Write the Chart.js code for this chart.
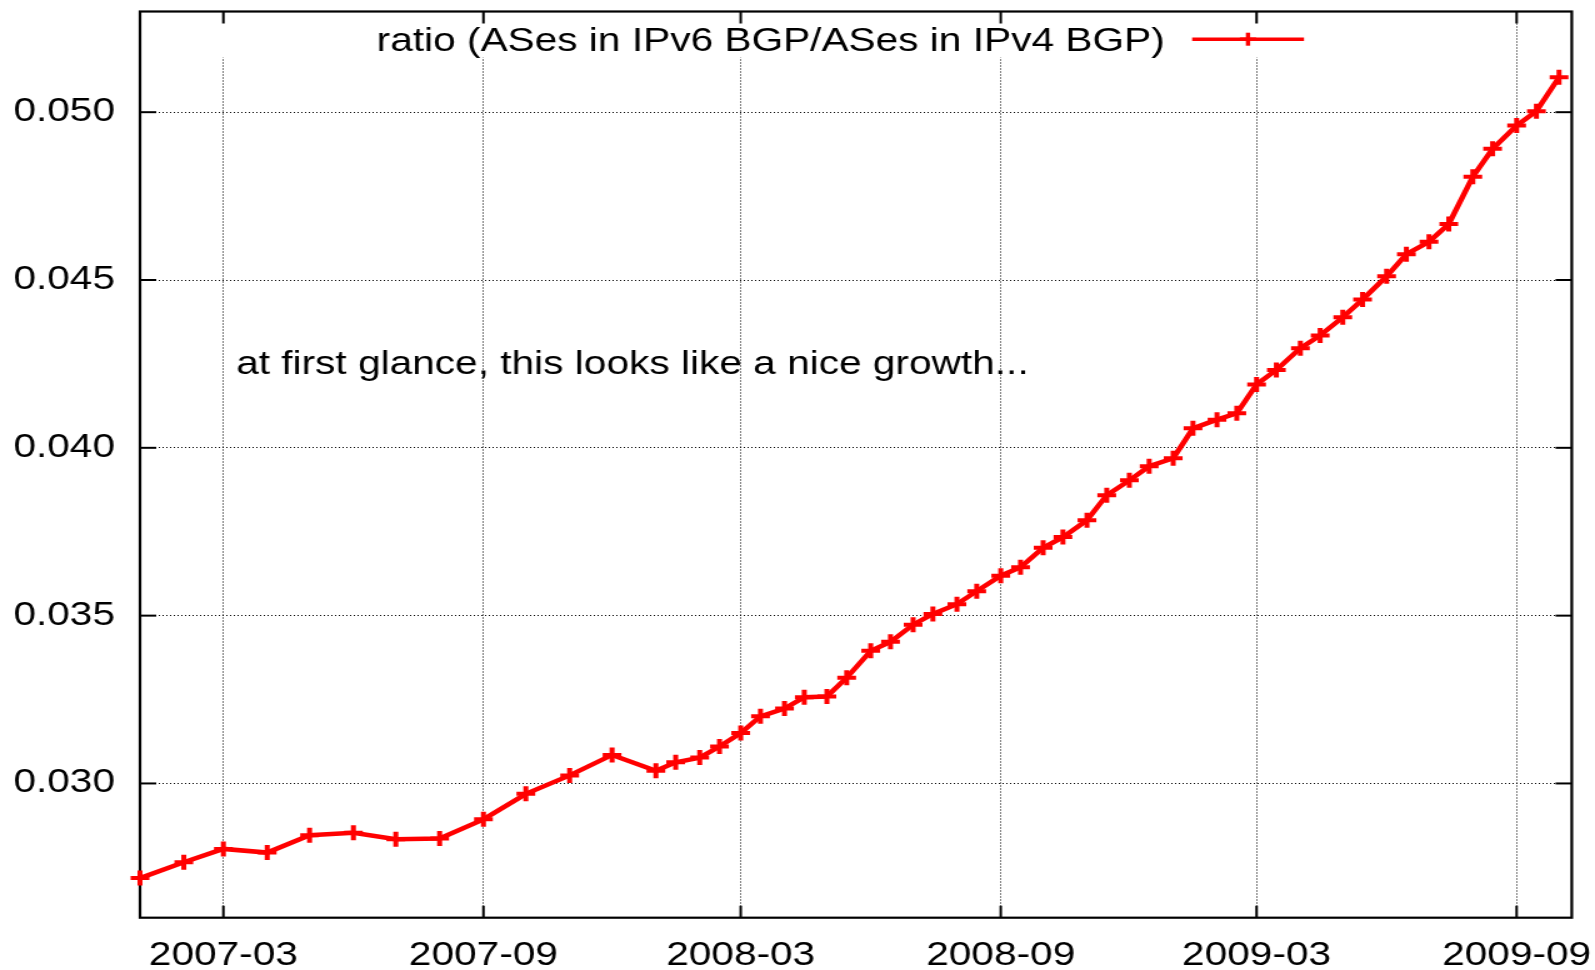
<!DOCTYPE html>
<html>
<head>
<meta charset="utf-8">
<title>ratio IPv6/IPv4 BGP</title>
<script src="https://cdn.jsdelivr.net/npm/chart.js@4.4.1/dist/chart.umd.min.js"></script>
<style>
    html, body { margin: 0; padding: 0; background: #fff; overflow: hidden; }
    /* a figura original vem esticada na horizontal */
    #moldura { width: 1276px; height: 970px; transform: scaleX(1.25); transform-origin: 0 0; }
</style>
</head>
<body>
<div id="moldura"><canvas id="grafico-ratio" width="1276" height="970"></canvas></div>
<script>
// ==================== DADOS ====================
const datas = [
    '2007-01-01', '2007-02-01', '2007-03-01', '2007-04-01', '2007-05-01', '2007-06-01',
    '2007-07-01', '2007-08-01', '2007-09-01', '2007-10-01', '2007-11-01', '2007-12-01',
    '2008-01-01', '2008-01-15', '2008-02-01', '2008-02-15', '2008-03-01', '2008-03-15',
    '2008-04-01', '2008-04-15', '2008-05-01', '2008-05-15', '2008-06-01', '2008-06-15',
    '2008-07-01', '2008-07-15', '2008-08-01', '2008-08-15', '2008-09-01', '2008-09-15',
    '2008-10-01', '2008-10-15', '2008-11-01', '2008-11-15', '2008-12-01', '2008-12-15',
    '2009-01-01', '2009-01-15', '2009-02-01', '2009-02-15', '2009-03-01', '2009-03-15',
    '2009-04-01', '2009-04-15', '2009-05-01', '2009-05-15', '2009-06-01', '2009-06-15',
    '2009-07-01', '2009-07-15', '2009-08-01', '2009-08-15', '2009-09-01', '2009-09-15',
    '2009-10-01'
];

const ratio = [
    0.02718, 0.02765, 0.02805, 0.02794, 0.02846, 0.02853,
    0.02834, 0.02836, 0.02893, 0.02969, 0.03024, 0.03085,
    0.03038, 0.03063, 0.03077, 0.03110, 0.03150, 0.03200,
    0.03223, 0.03257, 0.03259, 0.03315, 0.03395, 0.03422,
    0.03473, 0.03505, 0.03534, 0.03573, 0.03619, 0.03644,
    0.03702, 0.03734, 0.03784, 0.03859, 0.03903, 0.03945,
    0.03969, 0.04058, 0.04084, 0.04103, 0.04189, 0.04232,
    0.04297, 0.04335, 0.04389, 0.04442, 0.04511, 0.04577,
    0.04614, 0.04667, 0.04808, 0.04891, 0.04960, 0.05003,
    0.05104
];

const ticksX = ['2007-03', '2007-09', '2008-03', '2008-09', '2009-03', '2009-09'];
const ticksY = [0.030, 0.035, 0.040, 0.045, 0.050];

const inicioX = '2007-01-01';
const fimX = '2009-10-10';
const minY = 0.026;
const maxY = 0.053;

const tituloSerie = 'ratio (ASes in IPv6 BGP/ASes in IPv4 BGP)';
const textoNota = 'at first glance, this looks like a nice growth...';
const posNota = { data: '2007-03-10', valor: 0.0425 };

// ==================== AUXILIARES ====================
const FONTE = "'Liberation Sans', Arial, sans-serif";
const TAM_FONTE = 32.5;

function dia(str) {
    const [a, m, d] = str.split('-').map(Number);
    return (Date.UTC(a, m - 1, d) - Date.UTC(2007, 0, 1)) / 86400000;
}

function linha(ctx, x1, y1, x2, y2) {
    ctx.beginPath();
    ctx.moveTo(x1, y1);
    ctx.lineTo(x2, y2);
    ctx.stroke();
}

function cruz(ctx, x, y, r) {
    linha(ctx, x - r, y, x + r, y);
    linha(ctx, x, y - r, x, y + r);
}

// estilo gnuplot: caixa fechada, ticks para dentro, chave dentro do gráfico
const pluginGnuplot = {
    id: 'gnuplot',
    beforeDatasetsDraw(chart) {
        const { ctx, chartArea: a } = chart;
        const sx = chart.scales.x, sy = chart.scales.y;
        ctx.save();

        // limpa a grade atrás da chave
        ctx.fillStyle = '#fff';
        ctx.fillRect(a.left + 30, a.top, a.right - a.left - 110, 46);

        ctx.strokeStyle = '#000';
        ctx.lineWidth = 2;
        sx.ticks.forEach(t => {
            const px = sx.getPixelForValue(t.value);
            linha(ctx, px, a.bottom, px, a.bottom - 12);
            linha(ctx, px, a.top, px, a.top + 12);
        });
        sy.ticks.forEach(t => {
            const py = sy.getPixelForValue(t.value);
            linha(ctx, a.left, py, a.left + 13, py);
            linha(ctx, a.right, py, a.right - 13, py);
        });

        ctx.lineWidth = 2.2;
        ctx.strokeRect(a.left, a.top, a.right - a.left, a.bottom - a.top);
        ctx.restore();
    },
    afterDatasetsDraw(chart) {
        const { ctx, chartArea: a } = chart;
        const sx = chart.scales.x, sy = chart.scales.y;
        const centro = (a.left + a.right) / 2;
        ctx.save();
        ctx.font = TAM_FONTE + 'px ' + FONTE;
        ctx.fillStyle = '#000';
        ctx.textBaseline = 'alphabetic';

        // chave
        ctx.textAlign = 'right';
        ctx.fillText(tituloSerie, centro + 247, a.top + 39);
        const yAmostra = a.top + 27.7;
        ctx.strokeStyle = '#ff0000';
        ctx.lineWidth = 3.4;
        linha(ctx, centro + 269, yAmostra, centro + 358.5, yAmostra);
        cruz(ctx, centro + 313.7, yAmostra, 6.5);

        // nota
        ctx.textAlign = 'left';
        ctx.fillText(textoNota, sx.getPixelForValue(dia(posNota.data)), sy.getPixelForValue(posNota.valor) + 10);
        ctx.restore();
    }
};

// ==================== GRÁFICO ====================
function renderizarGrafico() {
    const ctx = document.getElementById('grafico-ratio');
    const pontos = datas.map((d, i) => ({ x: dia(d), y: ratio[i] }));

    Chart.defaults.font.family = FONTE;
    Chart.defaults.font.size = TAM_FONTE;
    Chart.defaults.color = '#000';

    new Chart(ctx, {
        type: 'line',
        data: {
            datasets: [{
                label: tituloSerie,
                data: pontos,
                borderColor: '#ff0000',
                backgroundColor: '#ff0000',
                borderWidth: 4.5,
                pointStyle: 'cross',
                pointRadius: 7.5,
                pointHoverRadius: 7.5,
                pointBorderWidth: 4,
                pointBorderColor: '#ff0000',
                tension: 0,
                clip: false
            }]
        },
        options: {
            responsive: false,
            animation: false,
            events: [],
            layout: {
                padding: { top: 9, right: 18.6, bottom: 0, left: 0 }
            },
            plugins: {
                legend: { display: false },
                tooltip: { enabled: false }
            },
            scales: {
                x: {
                    type: 'linear',
                    min: dia(inicioX),
                    max: dia(fimX),
                    afterBuildTicks: function(scale) {
                        scale.ticks = ticksX.map(t => ({ value: dia(t + '-01') }));
                    },
                    afterFit: function(scale) {
                        scale.height = 52.3;
                        scale.paddingLeft = 0;
                        scale.paddingRight = 0;
                    },
                    ticks: {
                        autoSkip: false,
                        maxRotation: 0,
                        padding: 19,
                        callback: function(value, index) {
                            return ticksX[index];
                        }
                    },
                    grid: {
                        color: '#000',
                        lineWidth: 1,
                        drawTicks: false
                    },
                    border: {
                        display: false,
                        dash: [1, 2]
                    }
                },
                y: {
                    type: 'linear',
                    min: minY,
                    max: maxY,
                    afterBuildTicks: function(scale) {
                        scale.ticks = ticksY.map(v => ({ value: v }));
                    },
                    afterFit: function(scale) {
                        scale.width = 112;
                        scale.paddingTop = 0;
                        scale.paddingBottom = 0;
                    },
                    ticks: {
                        padding: 20,
                        callback: function(value) {
                            return Number(value).toFixed(3);
                        }
                    },
                    grid: {
                        color: '#000',
                        lineWidth: 1,
                        drawTicks: false
                    },
                    border: {
                        display: false,
                        dash: [1, 2]
                    }
                }
            }
        },
        plugins: [pluginGnuplot]
    });
}

renderizarGrafico();
</script>
</body>
</html>
